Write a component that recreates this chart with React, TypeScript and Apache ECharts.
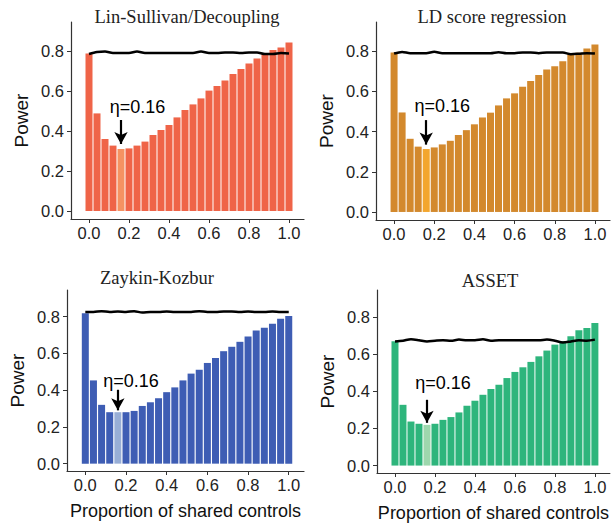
import React, { useEffect, useRef } from "react";
import * as echarts from "echarts";

const xValues = [0, 0.04, 0.08, 0.12, 0.16, 0.2, 0.24, 0.28, 0.32, 0.36, 0.4, 0.44, 0.48, 0.52, 0.56, 0.6, 0.64, 0.68, 0.72, 0.76, 0.8, 0.84, 0.88, 0.92, 0.96, 1.0];
const xTicks = [0, 0.2, 0.4, 0.6, 0.8, 1.0];
const yTicks = [0, 0.2, 0.4, 0.6, 0.8];
const titles = ["Lin-Sullivan/Decoupling", "LD score regression", "Zaykin-Kozbur", "ASSET"];

const linSullivanBars = [0.788, 0.488, 0.36, 0.327, 0.31, 0.313, 0.327, 0.347, 0.38, 0.405, 0.43, 0.468, 0.505, 0.533, 0.563, 0.602, 0.625, 0.652, 0.685, 0.71, 0.738, 0.762, 0.788, 0.805, 0.818, 0.842];
const linSullivanLine = [0.785, 0.795, 0.797, 0.79, 0.79, 0.79, 0.797, 0.79, 0.79, 0.79, 0.79, 0.79, 0.79, 0.79, 0.797, 0.79, 0.79, 0.792, 0.792, 0.79, 0.793, 0.793, 0.785, 0.785, 0.79, 0.788];

const ldScoreBars = [0.793, 0.495, 0.364, 0.325, 0.313, 0.321, 0.336, 0.354, 0.383, 0.407, 0.436, 0.47, 0.494, 0.53, 0.565, 0.59, 0.623, 0.651, 0.681, 0.709, 0.725, 0.75, 0.785, 0.792, 0.813, 0.833];
const ldScoreLine = [0.788, 0.796, 0.79, 0.79, 0.79, 0.797, 0.79, 0.79, 0.79, 0.79, 0.79, 0.79, 0.79, 0.795, 0.79, 0.79, 0.793, 0.793, 0.79, 0.793, 0.793, 0.793, 0.785, 0.787, 0.79, 0.788];

const zaykinBars = [0.818, 0.453, 0.32, 0.28, 0.28, 0.28, 0.287, 0.314, 0.334, 0.356, 0.389, 0.415, 0.453, 0.49, 0.511, 0.548, 0.575, 0.612, 0.636, 0.663, 0.692, 0.725, 0.74, 0.762, 0.789, 0.804];
const zaykinLine = [0.825, 0.825, 0.83, 0.825, 0.828, 0.825, 0.83, 0.822, 0.825, 0.825, 0.828, 0.825, 0.825, 0.825, 0.83, 0.825, 0.825, 0.828, 0.828, 0.825, 0.828, 0.825, 0.825, 0.828, 0.825, 0.825];

const assetBars = [0.669, 0.327, 0.237, 0.225, 0.219, 0.225, 0.246, 0.261, 0.286, 0.322, 0.349, 0.381, 0.412, 0.435, 0.471, 0.504, 0.529, 0.558, 0.588, 0.619, 0.651, 0.669, 0.696, 0.728, 0.741, 0.768];
const assetLine = [0.668, 0.672, 0.68, 0.675, 0.668, 0.672, 0.675, 0.672, 0.678, 0.675, 0.675, 0.68, 0.672, 0.675, 0.675, 0.675, 0.675, 0.675, 0.675, 0.678, 0.672, 0.662, 0.668, 0.675, 0.672, 0.678];

const highlightIndex = 4;
const etaLabel = "η=0.16";

export default function App() {
  const ref = useRef<HTMLDivElement>(null);
  useEffect(() => {
    if (!ref.current) return;
    const chart = echarts.init(ref.current, null, { renderer: "svg" });

    const panels = [
      { bars: linSullivanBars, line: linSullivanLine, color: "#EF6448", hi: "#F59262", grid: { left: 71, top: 22, width: 233, height: 197 }, txt: [0.243, 0.52], arr: [0.455, 0.335] },
      { bars: ldScoreBars, line: ldScoreLine, color: "#D3892D", hi: "#F3A62E", grid: { left: 376, top: 22, width: 234, height: 198 }, txt: [0.24, 0.525], arr: [0.457, 0.335] },
      { bars: zaykinBars, line: zaykinLine, color: "#3E5DB4", hi: "#98AED6", grid: { left: 67, top: 290, width: 237, height: 181 }, txt: [0.225, 0.45], arr: [0.402, 0.29] },
      { bars: assetBars, line: assetLine, color: "#2EB57C", hi: "#9DD7AD", grid: { left: 377, top: 290, width: 233, height: 183 }, txt: [0.24, 0.445], arr: [0.354, 0.23] },
    ];

    const axisColor = "#333";
    const font = "Liberation Sans, Arial, sans-serif";

    const grid = panels.map((p) => ({ ...p.grid }));
    const xAxis = panels.map((p, i) => ({
      type: "value",
      gridIndex: i,
      min: -0.09,
      max: 1.075,
      splitLine: { show: false },
      axisLine: { show: true, onZero: false, lineStyle: { color: axisColor, width: 1.2 } },
      axisTick: { show: true, customValues: xTicks, length: 4, lineStyle: { color: axisColor } },
      axisLabel: { customValues: xTicks, formatter: (v: number) => v.toFixed(1), color: "#222", fontSize: 16.5, fontFamily: font, margin: 5 },
      name: i >= 2 ? "Proportion of shared controls" : "",
      nameLocation: "middle",
      nameGap: 31,
      nameTextStyle: { color: "#111", fontSize: 18, fontFamily: font },
    }));
    const yAxis = panels.map((p, i) => ({
      type: "value",
      gridIndex: i,
      min: -0.04,
      max: 0.945,
      splitLine: { show: false },
      axisLine: { show: true, onZero: false, lineStyle: { color: axisColor, width: 1.2 } },
      axisTick: { show: true, customValues: yTicks, length: 4, lineStyle: { color: axisColor } },
      axisLabel: { customValues: yTicks, formatter: (v: number) => v.toFixed(1), color: "#222", fontSize: 16.5, fontFamily: font, margin: 7 },
      name: "Power",
      nameLocation: "middle",
      nameGap: 40,
      nameTextStyle: { color: "#111", fontSize: 19, fontFamily: font },
    }));

    const series: any[] = [];
    panels.forEach((p, i) => {
      series.push({
        type: "bar",
        xAxisIndex: i,
        yAxisIndex: i,
        barWidth: 7,
        data: p.bars.map((y, k) => ({
          value: [xValues[k], y],
          itemStyle: { color: k === highlightIndex ? p.hi : p.color },
        })),
        markLine: {
          silent: true,
          symbol: ["none", "arrow"],
          symbolSize: [10, 12],
          lineStyle: { color: "#000", width: 2.2, type: "solid" },
          label: { show: false },
          data: [[{ coord: [xValues[highlightIndex], p.arr[0]] }, { coord: [xValues[highlightIndex], p.arr[1]] }]],
        },
        markPoint: {
          silent: true,
          symbol: "circle",
          symbolSize: 1,
          itemStyle: { color: "rgba(0,0,0,0)" },
          label: { show: true, position: "inside", formatter: etaLabel, color: "#000", fontSize: 18, fontFamily: font },
          data: [{ coord: p.txt }],
        },
      });
      series.push({
        type: "line",
        xAxisIndex: i,
        yAxisIndex: i,
        symbol: "none",
        smooth: 0.3,
        lineStyle: { color: "#000", width: 2.5 },
        data: p.line.map((y, k) => [xValues[k], y]),
        z: 5,
      });
    });

    const titlePos = [
      [187, 17],
      [492, 17],
      [157, 278],
      [490, 281],
    ];
    const graphic = titles.map((t, i) => ({
      type: "text",
      x: titlePos[i][0],
      y: titlePos[i][1],
      style: {
        text: t,
        textAlign: "center",
        textVerticalAlign: "middle",
        fontFamily: "Liberation Serif, Times New Roman, serif",
        fontSize: 18.5,
        fill: "#222",
      },
    }));

    chart.setOption({
      animation: false,
      backgroundColor: "#fff",
      grid,
      xAxis,
      yAxis,
      series,
      graphic,
    } as any);
    return () => chart.dispose();
  }, []);
  return <div ref={ref} style={{ position: "absolute", left: 0, top: 0, width: 611, height: 524 }} />;
}
